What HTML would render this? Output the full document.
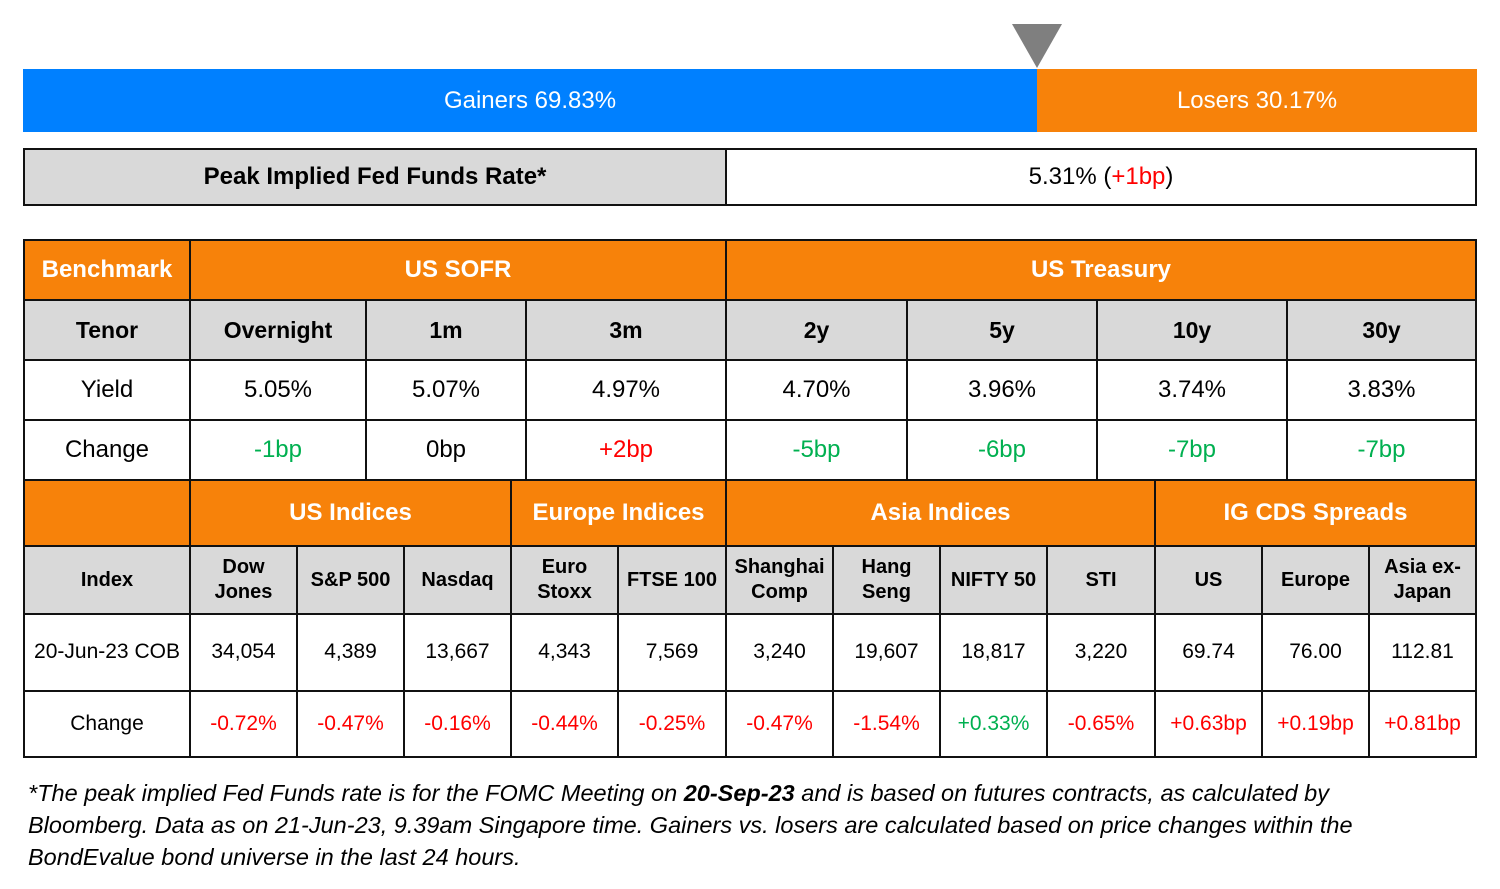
<!DOCTYPE html>
<html><head><meta charset="utf-8"><style>
body{margin:0;width:1500px;height:889px;background:#fff;font-family:"Liberation Sans",Arial,sans-serif;position:relative;overflow:hidden}
.c{position:absolute;box-sizing:border-box;border:2px solid #111;display:flex;align-items:center;justify-content:center;text-align:center;color:#000;font-size:24px;line-height:1.25}
.o{background:#F7820A;color:#fff;font-weight:bold;font-size:24px}
.g{background:#D9D9D9;font-weight:bold;font-size:23px}
.s{font-size:21px}
.g.s{font-size:20px}
.r{color:#FF0000}.gr{color:#00B050}
</style></head><body>
<svg style="position:absolute;left:0;top:0" width="1500" height="140"><polygon points="1012,24 1062,24 1037,68" fill="#7f7f7f"/></svg>
<div style="position:absolute;left:23px;top:69px;width:1014px;height:63px;background:#0080FF;color:#fff;font-size:24px;display:flex;align-items:center;justify-content:center">Gainers 69.83%</div>
<div style="position:absolute;left:1037px;top:69px;width:440px;height:63px;background:#F7820A;color:#fff;font-size:24px;display:flex;align-items:center;justify-content:center">Losers 30.17%</div>
<div class="c g" style="left:23px;top:148px;width:704px;height:58px;font-size:24px">Peak Implied Fed Funds Rate*</div>
<div class="c" style="left:725px;top:148px;width:752px;height:58px">5.31% (<span class="r">+1bp</span>)</div>

<div class="c o" style="left:23px;top:239px;width:168px;height:62px">Benchmark</div>
<div class="c o" style="left:189px;top:239px;width:538px;height:62px">US SOFR</div>
<div class="c o" style="left:725px;top:239px;width:752px;height:62px">US Treasury</div>

<div class="c g" style="left:23px;top:299px;width:168px;height:62px">Tenor</div>
<div class="c g" style="left:189px;top:299px;width:178px;height:62px">Overnight</div>
<div class="c g" style="left:365px;top:299px;width:162px;height:62px">1m</div>
<div class="c g" style="left:525px;top:299px;width:202px;height:62px">3m</div>
<div class="c g" style="left:725px;top:299px;width:183px;height:62px">2y</div>
<div class="c g" style="left:906px;top:299px;width:192px;height:62px">5y</div>
<div class="c g" style="left:1096px;top:299px;width:192px;height:62px">10y</div>
<div class="c g" style="left:1286px;top:299px;width:191px;height:62px">30y</div>

<div class="c" style="left:23px;top:359px;width:168px;height:62px">Yield</div>
<div class="c" style="left:189px;top:359px;width:178px;height:62px">5.05%</div>
<div class="c" style="left:365px;top:359px;width:162px;height:62px">5.07%</div>
<div class="c" style="left:525px;top:359px;width:202px;height:62px">4.97%</div>
<div class="c" style="left:725px;top:359px;width:183px;height:62px">4.70%</div>
<div class="c" style="left:906px;top:359px;width:192px;height:62px">3.96%</div>
<div class="c" style="left:1096px;top:359px;width:192px;height:62px">3.74%</div>
<div class="c" style="left:1286px;top:359px;width:191px;height:62px">3.83%</div>

<div class="c" style="left:23px;top:419px;width:168px;height:62px">Change</div>
<div class="c gr" style="left:189px;top:419px;width:178px;height:62px">-1bp</div>
<div class="c" style="left:365px;top:419px;width:162px;height:62px">0bp</div>
<div class="c r" style="left:525px;top:419px;width:202px;height:62px">+2bp</div>
<div class="c gr" style="left:725px;top:419px;width:183px;height:62px">-5bp</div>
<div class="c gr" style="left:906px;top:419px;width:192px;height:62px">-6bp</div>
<div class="c gr" style="left:1096px;top:419px;width:192px;height:62px">-7bp</div>
<div class="c gr" style="left:1286px;top:419px;width:191px;height:62px">-7bp</div>

<div class="c o" style="left:23px;top:479px;width:168px;height:68px"></div>
<div class="c o" style="left:189px;top:479px;width:323px;height:68px">US Indices</div>
<div class="c o" style="left:510px;top:479px;width:217px;height:68px">Europe Indices</div>
<div class="c o" style="left:725px;top:479px;width:431px;height:68px">Asia Indices</div>
<div class="c o" style="left:1154px;top:479px;width:323px;height:68px">IG CDS Spreads</div>

<div class="c g s" style="left:23px;top:545px;width:168px;height:70px">Index</div>
<div class="c g s" style="left:189px;top:545px;width:109px;height:70px">Dow<br>Jones</div>
<div class="c g s" style="left:296px;top:545px;width:109px;height:70px">S&amp;P 500</div>
<div class="c g s" style="left:403px;top:545px;width:109px;height:70px">Nasdaq</div>
<div class="c g s" style="left:510px;top:545px;width:109px;height:70px">Euro<br>Stoxx</div>
<div class="c g s" style="left:617px;top:545px;width:110px;height:70px">FTSE 100</div>
<div class="c g s" style="left:725px;top:545px;width:109px;height:70px">Shanghai<br>Comp</div>
<div class="c g s" style="left:832px;top:545px;width:109px;height:70px">Hang<br>Seng</div>
<div class="c g s" style="left:939px;top:545px;width:109px;height:70px">NIFTY 50</div>
<div class="c g s" style="left:1046px;top:545px;width:110px;height:70px">STI</div>
<div class="c g s" style="left:1154px;top:545px;width:109px;height:70px">US</div>
<div class="c g s" style="left:1261px;top:545px;width:109px;height:70px">Europe</div>
<div class="c g s" style="left:1368px;top:545px;width:109px;height:70px">Asia ex-<br>Japan</div>

<div class="c s" style="left:23px;top:613px;width:168px;height:79px">20-Jun-23 COB</div>
<div class="c s" style="left:189px;top:613px;width:109px;height:79px">34,054</div>
<div class="c s" style="left:296px;top:613px;width:109px;height:79px">4,389</div>
<div class="c s" style="left:403px;top:613px;width:109px;height:79px">13,667</div>
<div class="c s" style="left:510px;top:613px;width:109px;height:79px">4,343</div>
<div class="c s" style="left:617px;top:613px;width:110px;height:79px">7,569</div>
<div class="c s" style="left:725px;top:613px;width:109px;height:79px">3,240</div>
<div class="c s" style="left:832px;top:613px;width:109px;height:79px">19,607</div>
<div class="c s" style="left:939px;top:613px;width:109px;height:79px">18,817</div>
<div class="c s" style="left:1046px;top:613px;width:110px;height:79px">3,220</div>
<div class="c s" style="left:1154px;top:613px;width:109px;height:79px">69.74</div>
<div class="c s" style="left:1261px;top:613px;width:109px;height:79px">76.00</div>
<div class="c s" style="left:1368px;top:613px;width:109px;height:79px">112.81</div>

<div class="c s" style="left:23px;top:690px;width:168px;height:68px">Change</div>
<div class="c s r" style="left:189px;top:690px;width:109px;height:68px">-0.72%</div>
<div class="c s r" style="left:296px;top:690px;width:109px;height:68px">-0.47%</div>
<div class="c s r" style="left:403px;top:690px;width:109px;height:68px">-0.16%</div>
<div class="c s r" style="left:510px;top:690px;width:109px;height:68px">-0.44%</div>
<div class="c s r" style="left:617px;top:690px;width:110px;height:68px">-0.25%</div>
<div class="c s r" style="left:725px;top:690px;width:109px;height:68px">-0.47%</div>
<div class="c s r" style="left:832px;top:690px;width:109px;height:68px">-1.54%</div>
<div class="c s gr" style="left:939px;top:690px;width:109px;height:68px">+0.33%</div>
<div class="c s r" style="left:1046px;top:690px;width:110px;height:68px">-0.65%</div>
<div class="c s r" style="left:1154px;top:690px;width:109px;height:68px">+0.63bp</div>
<div class="c s r" style="left:1261px;top:690px;width:109px;height:68px">+0.19bp</div>
<div class="c s r" style="left:1368px;top:690px;width:109px;height:68px">+0.81bp</div>

<div style="position:absolute;left:28px;top:777px;width:1460px;font-style:italic;font-size:23.5px;line-height:32px;color:#000;white-space:nowrap">*The peak implied Fed Funds rate is for the FOMC Meeting on <b>20-Sep-23</b> and is based on futures contracts, as calculated by<br>Bloomberg. Data as on 21-Jun-23, 9.39am Singapore time. Gainers vs. losers are calculated based on price changes within the<br>BondEvalue bond universe in the last 24 hours.</div>
</body></html>
